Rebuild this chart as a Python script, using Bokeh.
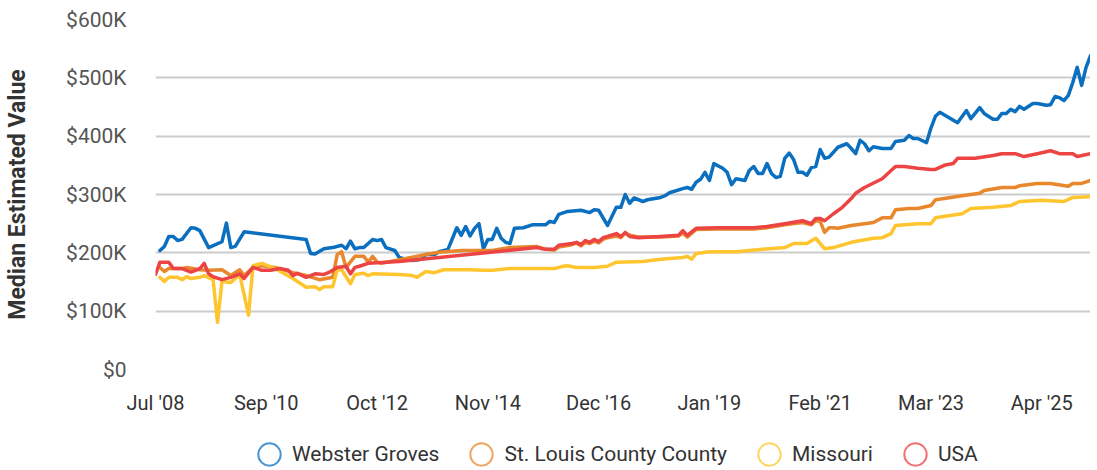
from bokeh.plotting import figure
from bokeh.layouts import column
from bokeh.models import Range1d, FixedTicker, Legend, LegendItem, ColumnDataSource
from bokeh.embed import file_html
from bokeh.resources import INLINE

# ---------------- data (values in $K, x = observation index) ----------------
x_tick_pos = [0, 25, 50, 75, 100, 125, 150, 175, 200]
x_tick_labels = ["Jul '08", "Sep '10", "Oct '12", "Nov '14", "Dec '16",
                 "Jan '19", "Feb '21", "Mar '23", "Apr '25"]
y_tick_pos = [0, 100, 200, 300, 400, 500, 600]
y_tick_labels = ["$0", "$100K", "$200K", "$300K", "$400K", "$500K", "$600K"]

series_names = ["Webster Groves", "St. Louis County County", "Missouri", "USA"]
series_colors = ["#0b6fc0", "#e8872c", "#fec52e", "#ec4343"]

webster_idx = [1, 2, 3, 4, 5, 6, 7, 8, 9, 10,
               12, 15, 16, 17, 18, 20,
               34, 35, 36, 38, 40, 42, 43, 44, 45, 46, 47,
               49, 50, 51, 52, 54, 55, 56, 58, 60, 61,
               63, 64, 66, 68, 69, 70, 71, 72, 73, 74,
               75, 76, 77, 78, 79, 80, 81, 83, 85, 88,
               89, 90, 91, 93, 96, 98, 99, 100, 102, 104,
               105, 106, 107, 108, 110, 111, 114, 115, 116, 119,
               120, 121, 122, 123, 124, 125, 126, 128, 129, 130,
               131, 133, 134, 135, 136, 137, 138, 139, 140, 141,
               142, 143, 144, 145, 146, 147, 148, 149, 150, 151,
               152, 154, 156, 157, 158, 159, 160, 161, 162, 164,
               166, 167, 169, 170, 171, 172, 174, 175, 176, 177,
               179, 181, 183, 184, 186, 187, 189, 190, 191, 192,
               193, 194, 195, 196, 198, 199, 201, 202, 203, 204,
               205, 206, 207, 208, 209, 210, 211]
webster_val = [204, 211, 228, 228, 221, 223, 233, 243, 242, 238,
               209, 219, 251, 209, 211, 236,
               223, 199, 198, 207, 209, 213, 207, 220, 207, 209, 209,
               223, 221, 223, 209, 204, 192, 190, 187, 189, 197,
               197, 202, 206, 243, 230, 245, 229, 242, 250, 207,
               223, 223, 242, 225, 218, 216, 242, 243, 248, 248,
               254, 252, 266, 271, 273, 269, 274, 273, 247, 278,
               278, 300, 285, 294, 288, 291, 295, 298, 303, 310,
               312, 309, 321, 326, 338, 324, 353, 345, 338, 317,
               327, 324, 341, 348, 336, 336, 353, 336, 329, 331,
               362, 371, 360, 338, 338, 333, 346, 348, 377, 362,
               364, 381, 387, 379, 370, 393, 387, 375, 382, 379,
               379, 391, 393, 401, 396, 396, 389, 414, 434, 441,
               432, 423, 444, 430, 449, 439, 429, 429, 439, 439,
               446, 442, 451, 446, 456, 456, 453, 454, 468, 466,
               461, 470, 492, 518, 487, 518, 538]

stl_idx = [1, 2, 3, 6, 7, 10, 12, 15, 17, 19,
           20, 22, 24, 27, 31, 34, 37, 40, 41, 42,
           43, 45, 47, 48, 49, 50, 51, 61, 64, 69,
           76, 80, 86, 88, 90, 91, 94, 95, 96, 97,
           98, 99, 100, 101, 102, 104, 105, 106, 107, 109,
           114, 118, 119, 120, 122, 127, 135, 138, 142, 146,
           148, 149, 150, 151, 152, 153, 154, 157, 160, 162,
           164, 166, 167, 170, 172, 175, 176, 178, 182, 186,
           187, 191, 194, 195, 199, 202, 206, 207, 209, 211]
stl_val = [175, 168, 173, 173, 175, 171, 170, 171, 161, 171,
           161, 175, 178, 175, 166, 161, 154, 158, 197, 202,
           175, 194, 194, 184, 194, 184, 182, 197, 201, 204,
           204, 209, 211, 206, 205, 210, 214, 217, 212, 218,
           216, 220, 217, 223, 226, 229, 226, 234, 230, 227,
           227, 229, 234, 227, 240, 241, 241, 243, 248, 252,
           248, 255, 254, 235, 243, 243, 242, 247, 250, 252,
           260, 260, 274, 276, 276, 281, 291, 293, 298, 302,
           307, 312, 312, 315, 319, 319, 314, 319, 319, 324]

mo_idx = [1, 2, 3, 5, 6, 7, 8, 10, 11, 13,
          14, 15, 17, 19, 21, 22, 24, 27, 31, 34,
          36, 37, 38, 40, 41, 42, 44, 45, 47, 48,
          49, 55, 58, 59, 61, 63, 65, 71, 74, 76,
          80, 84, 90, 92, 93, 95, 99, 102, 104, 110,
          114, 119, 120, 121, 122, 125, 131, 137, 142, 144,
          147, 149, 151, 153, 157, 162, 164, 166, 167, 172,
          175, 176, 182, 184, 189, 193, 195, 200, 205, 207,
          211]
mo_val = [158, 151, 158, 158, 154, 159, 156, 158, 161, 154,
          81, 151, 149, 163, 93, 178, 182, 173, 156, 141,
          142, 137, 142, 142, 171, 171, 147, 163, 165, 161,
          164, 163, 161, 158, 168, 166, 171, 171, 170, 170,
          173, 173, 173, 177, 178, 175, 175, 177, 184, 185,
          189, 192, 194, 189, 199, 202, 202, 206, 209, 216,
          216, 225, 207, 209, 218, 225, 226, 233, 247, 250,
          250, 260, 267, 276, 278, 281, 288, 290, 288, 295,
          296]

usa_idx = [0, 1, 3, 4, 6, 8, 10, 11, 12, 13,
           15, 17, 19, 20, 22, 24, 26, 28, 30, 31,
           32, 34, 36, 38, 39, 41, 43, 44, 45, 46,
           48, 55, 86, 88, 90, 91, 94, 95, 96, 97,
           98, 99, 100, 101, 102, 104, 105, 106, 107, 109,
           114, 118, 119, 120, 122, 127, 135, 138, 142, 146,
           148, 149, 150, 151, 153, 155, 157, 158, 160, 164,
           166, 167, 169, 172, 175, 176, 178, 180, 181, 185,
           189, 191, 194, 196, 199, 202, 204, 207, 208, 211]
usa_val = [163, 184, 184, 173, 173, 167, 173, 182, 164, 159,
           154, 158, 164, 156, 175, 170, 170, 173, 170, 161,
           165, 158, 164, 163, 166, 175, 177, 164, 175, 177,
           182, 185, 209, 206, 206, 213, 216, 218, 214, 221,
           218, 223, 219, 226, 228, 233, 228, 235, 228, 226,
           228, 230, 238, 230, 242, 243, 243, 245, 250, 255,
           250, 259, 259, 255, 267, 278, 293, 302, 312, 327,
           341, 348, 348, 345, 343, 343, 350, 353, 362, 362,
           367, 370, 370, 365, 370, 375, 370, 370, 365, 370]

FONT = "Roboto"

p = figure(frame_width=935, frame_height=350,
           x_range=Range1d(0, 211), y_range=Range1d(0, 600),
           output_backend="svg", toolbar_location=None,
           min_border_left=155, min_border_top=19,
           min_border_right=0, min_border_bottom=50)
p.outline_line_color = None
p.background_fill_color = "white"
p.border_fill_color = "white"

series = [(webster_idx, webster_val), (stl_idx, stl_val),
          (mo_idx, mo_val), (usa_idx, usa_val)]
for (xs, ys), c in zip(series, series_colors):
    p.line(xs, ys, line_color=c, line_width=3.5, line_join="round", line_cap="round")

# axes
p.xaxis.ticker = FixedTicker(ticks=x_tick_pos)
p.xaxis.major_label_overrides = {t: l for t, l in zip(x_tick_pos, x_tick_labels)}
p.yaxis.ticker = FixedTicker(ticks=y_tick_pos)
p.yaxis.major_label_overrides = {t: l for t, l in zip(y_tick_pos, y_tick_labels)}
for ax in (p.xaxis[0], p.yaxis[0]):
    ax.axis_line_color = None
    ax.major_tick_line_color = None
    ax.minor_tick_line_color = None
    ax.major_tick_out = 0
    ax.major_tick_in = 0
    ax.minor_tick_out = 0
    ax.major_label_text_font = FONT
p.xaxis.major_label_text_font_size = "20px"
p.xaxis.major_label_text_color = "#333333"
p.xaxis.major_label_standoff = 21
p.yaxis.major_label_text_font_size = "21px"
p.yaxis.major_label_text_color = "#555555"
p.yaxis.major_label_standoff = 29
p.yaxis.axis_label = "Median Estimated Value"
p.yaxis.axis_label_text_font = FONT
p.yaxis.axis_label_text_font_size = "23px"
p.yaxis.axis_label_text_font_style = "bold"
p.yaxis.axis_label_text_color = "#333333"
p.yaxis.axis_label_standoff = 32

p.xgrid.visible = False
p.ygrid.grid_line_color = "#cccccc"
p.ygrid.grid_line_width = 2

# legend strip below the chart (hollow circle markers)
lf = figure(frame_width=935, height=51, x_range=Range1d(0, 1), y_range=Range1d(0, 1),
            output_backend="svg", toolbar_location=None,
            min_border_left=155, min_border_top=0, min_border_right=0,
            min_border_bottom=0)
lf.axis.visible = False
lf.grid.visible = False
lf.outline_line_color = None
lf.border_fill_color = "white"

items = []
for name, c in zip(series_names, series_colors):
    src = ColumnDataSource(dict(x=[float("nan")], y=[float("nan")]))
    r = lf.ellipse(x="x", y="y", width=22, height=22, width_units="screen",
                   height_units="screen", fill_color=None, line_color=c,
                   line_alpha=0.75, line_width=2, source=src)
    items.append(LegendItem(label=name, renderers=[r]))

legend = Legend(items=items, orientation="horizontal", location=(100, 2),
                glyph_width=28, glyph_height=28, label_height=28,
                label_standoff=9, spacing=28, padding=0, margin=0,
                border_line_color=None, background_fill_alpha=0,
                label_text_font=FONT, label_text_font_size="21px",
                label_text_color="#333333")
lf.add_layout(legend)

layout = column(p, lf, spacing=0)
open("out.html", "w").write(file_html(layout, INLINE))
